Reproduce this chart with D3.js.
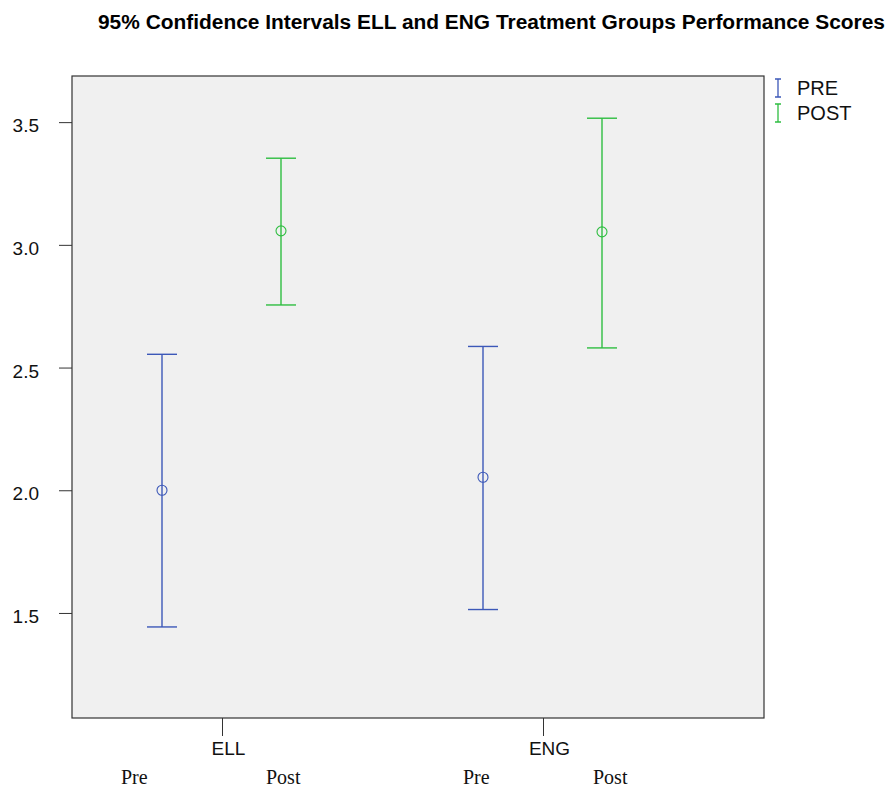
<!DOCTYPE html>
<html>
<head>
<meta charset="utf-8">
<script src="https://cdn.jsdelivr.net/npm/d3@7"></script>
<style>
  body { margin: 0; background: #fff; }
  svg { display: block; }
</style>
</head>
<body>
<svg width="889" height="788"></svg>
<script>
// data
const groups = ['ELL', 'ENG'];
const phases = ['PRE', 'POST'];
const phaseLabels = ['Pre', 'Post'];
const means = { ELL: [2.00, 3.057], ENG: [2.053, 3.053] };
const lows  = { ELL: [1.443, 2.755], ENG: [1.514, 2.58] };
const highs = { ELL: [2.554, 3.353], ENG: [2.586, 3.516] };
const yTicks = [1.5, 2.0, 2.5, 3.0, 3.5];

const colors = { PRE: '#3c58b8', POST: '#2fbe41' };

const svg = d3.select('svg');
const plotL = 72, plotT = 76, plotR = 764, plotB = 718;
// hand placed Pre/Post text, offset from each group tick
const labelOffsets = { ELL: [-101, 44], ENG: [-80, 50] };

svg.append('text')
    .attr('x', 98).attr('y', 29)
    .attr('textLength', 787)
    .attr('lengthAdjust', 'spacingAndGlyphs')
    .style('font', 'bold 20px Arial, "Liberation Sans", sans-serif')
    .text('95% Confidence Intervals ELL and ENG Treatment Groups Performance Scores');

svg.append('rect')
    .attr('x', plotL).attr('y', plotT)
    .attr('width', plotR - plotL).attr('height', plotB - plotT)
    .attr('fill', '#f0f0f0')
    .attr('stroke', '#333').attr('stroke-width', 1.2);

const y = d3.scaleLinear().domain([1.072, 3.688]).range([plotB, plotT]);
const x = d3.scalePoint().domain(groups).range([222, 543]);
const xi = d3.scalePoint().domain(phases).range([-60, 59]);

// y axis
const yAxis = svg.append('g')
    .attr('transform', `translate(${plotL},0)`)
    .call(d3.axisLeft(y).tickValues(yTicks).tickFormat(d3.format('.1f')).tickSize(13).tickPadding(20));
yAxis.select('.domain').remove();
yAxis.selectAll('line').attr('stroke', '#333');
yAxis.selectAll('text')
    .attr('fill', '#111')
    .attr('dy', '0.5em')
    .style('font', '19px Arial, "Liberation Sans", sans-serif');

// x axis
const xAxis = svg.append('g')
    .attr('transform', `translate(0,${plotB})`)
    .call(d3.axisBottom(x).tickSize(18).tickPadding(6));
xAxis.select('.domain').remove();
xAxis.selectAll('line').attr('stroke', '#333');
xAxis.selectAll('text')
    .attr('dx', 6)
    .attr('fill', '#111')
    .style('font', '19px Arial, "Liberation Sans", sans-serif');

// Pre / Post labels under each group
groups.forEach(g => {
    phaseLabels.forEach((lab, i) => {
        svg.append('text')
            .attr('x', x(g) + labelOffsets[g][i])
            .attr('y', 784)
            .style('font', '20px "Liberation Serif", "Times New Roman", serif')
            .attr('fill', '#111')
            .text(lab);
    });
});

// error bars
const rows = [];
groups.forEach(g => phases.forEach((p, i) => {
    rows.push({ g, p, mean: means[g][i], lo: lows[g][i], hi: highs[g][i] });
}));

const bar = svg.append('g').selectAll('g').data(rows).enter().append('g')
    .attr('stroke', d => colors[d.p])
    .attr('fill', 'none')
    .attr('stroke-width', 1.4);

bar.append('line')
    .attr('x1', d => x(d.g) + xi(d.p)).attr('x2', d => x(d.g) + xi(d.p))
    .attr('y1', d => y(d.lo)).attr('y2', d => y(d.hi));
bar.append('line')
    .attr('x1', d => x(d.g) + xi(d.p) - 15).attr('x2', d => x(d.g) + xi(d.p) + 15)
    .attr('y1', d => y(d.hi)).attr('y2', d => y(d.hi));
bar.append('line')
    .attr('x1', d => x(d.g) + xi(d.p) - 15).attr('x2', d => x(d.g) + xi(d.p) + 15)
    .attr('y1', d => y(d.lo)).attr('y2', d => y(d.lo));
bar.append('circle')
    .attr('cx', d => x(d.g) + xi(d.p)).attr('cy', d => y(d.mean))
    .attr('r', 5).attr('stroke-width', 1.1);

// legend
const legend = svg.append('g').selectAll('g').data(phases).enter().append('g')
    .attr('transform', (d, i) => `translate(778,${88 + i * 25})`);
legend.append('path')
    .attr('d', 'M-3,-9H3M0,-9V9M-3,9H3')
    .attr('stroke', d => colors[d]).attr('fill', 'none').attr('stroke-width', 1.3);
legend.append('text')
    .attr('x', 19).attr('y', 7)
    .style('font', '20px Arial, "Liberation Sans", sans-serif')
    .attr('fill', '#111')
    .text(d => d);
</script>
</body>
</html>
